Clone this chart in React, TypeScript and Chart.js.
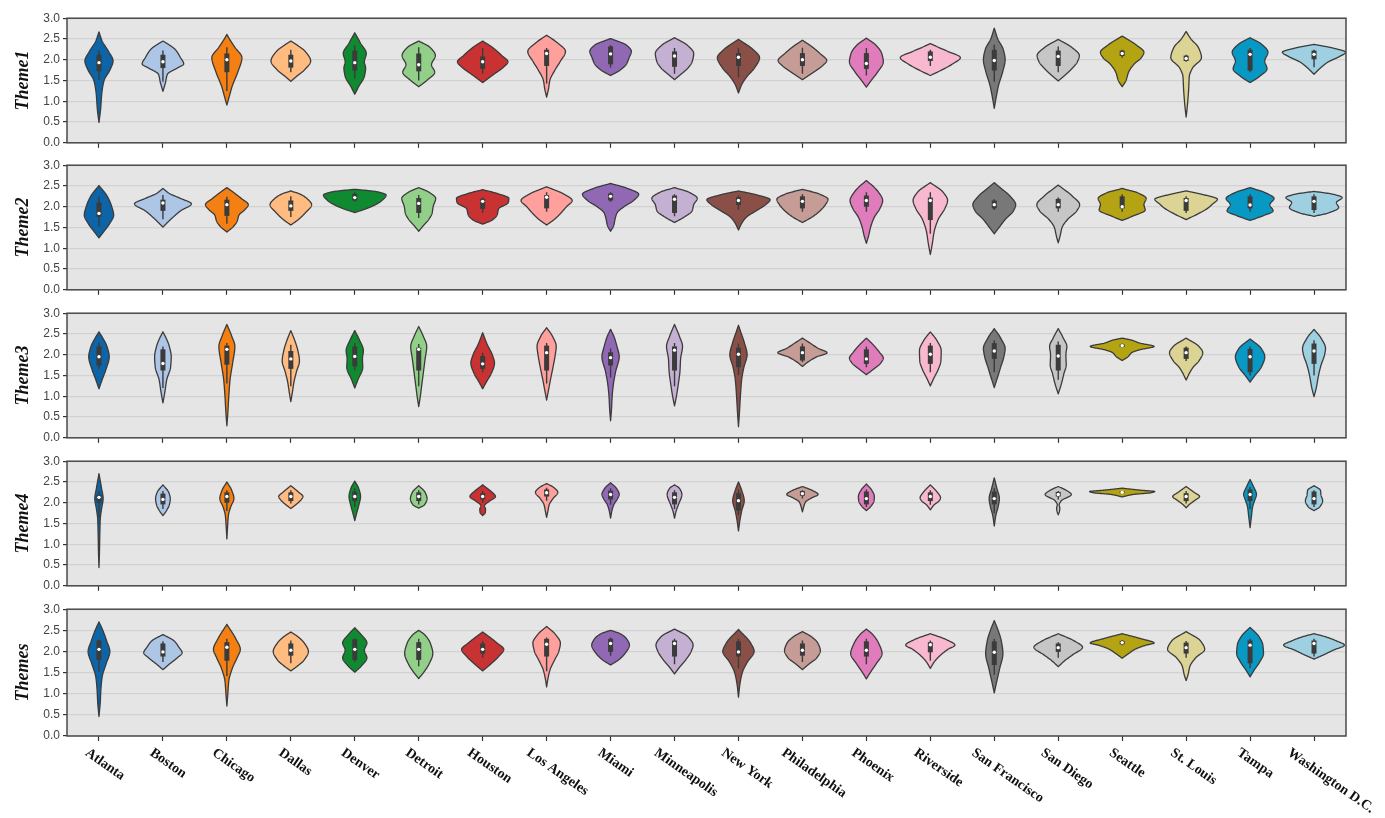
import React, { useEffect, useRef } from "react";
import { Chart, registerables } from "chart.js";

Chart.register(...registerables);

const cities = [
  "Atlanta", "Boston", "Chicago", "Dallas", "Denver", "Detroit", "Houston",
  "Los Angeles", "Miami", "Minneapolis", "New York", "Philadelphia", "Phoenix",
  "Riverside", "San Francisco", "San Diego", "Seattle", "St. Louis", "Tampa",
  "Washington D.C.",
];

const cityColors = [
  "#0d64a6", "#aec6e6", "#f47f12", "#ffbb80", "#108a30", "#92d08a", "#c83232",
  "#ffa09c", "#9068b4", "#c4b0d2", "#8a5048", "#c69c96", "#e07cbc", "#f8b8d0",
  "#787878", "#c6c6c6", "#b4a414", "#dcd494", "#0898c4", "#9ed0e2",
];

const themeNames = ["Theme1", "Theme2", "Theme3", "Theme4", "Themes"];

// Box summaries per city: [whisker low, q1, median, q3, whisker high]
const theme1Stats = [
  [1.52, 1.72, 1.93, 2.12, 2.22], [1.47, 1.8, 1.95, 2.12, 2.22], [1.25, 1.7, 2.0, 2.15, 2.3],
  [1.7, 1.81, 1.97, 2.12, 2.24], [1.55, 1.74, 1.93, 2.22, 2.35], [1.5, 1.72, 1.88, 2.15, 2.3],
  [1.66, 1.78, 1.95, 2.08, 2.28], [1.43, 1.85, 2.15, 2.24, 2.28], [1.81, 1.89, 2.14, 2.32, 2.35],
  [1.66, 1.83, 2.09, 2.2, 2.28], [1.58, 1.85, 2.06, 2.16, 2.28], [1.66, 1.85, 2.0, 2.16, 2.29],
  [1.62, 1.78, 1.91, 2.16, 2.28], [1.85, 1.97, 2.06, 2.2, 2.24], [1.47, 1.74, 1.98, 2.24, 2.36],
  [1.7, 1.85, 2.08, 2.22, 2.32], [2.05, 2.09, 2.15, 2.22, 2.24], [1.95, 1.97, 2.03, 2.1, 2.12],
  [1.7, 1.74, 2.13, 2.24, 2.28], [1.82, 2.01, 2.13, 2.22, 2.24],
];
const theme2Stats = [
  [1.52, 1.76, 1.84, 2.1, 2.24], [1.7, 1.9, 2.09, 2.17, 2.28], [1.59, 1.78, 2.05, 2.17, 2.24],
  [1.75, 1.9, 2.02, 2.15, 2.25], [2.12, 2.15, 2.22, 2.31, 2.35], [1.73, 1.85, 2.08, 2.21, 2.28],
  [1.85, 1.95, 2.13, 2.19, 2.23], [1.88, 1.96, 2.23, 2.28, 2.35], [2.12, 2.15, 2.25, 2.32, 2.35],
  [1.77, 1.85, 2.18, 2.27, 2.3], [1.92, 2.04, 2.15, 2.23, 2.27], [1.88, 1.96, 2.13, 2.25, 2.3],
  [1.88, 2.0, 2.15, 2.27, 2.35], [1.35, 1.68, 2.15, 2.22, 2.35], [1.92, 1.96, 2.05, 2.15, 2.18],
  [1.88, 1.96, 2.05, 2.19, 2.22], [1.88, 1.96, 2.0, 2.25, 2.3], [1.85, 1.9, 2.15, 2.21, 2.25],
  [1.88, 1.96, 2.04, 2.25, 2.3], [1.85, 1.92, 2.13, 2.25, 2.3],
];
const theme3Stats = [
  [1.66, 1.74, 1.95, 2.2, 2.28], [1.2, 1.62, 1.79, 2.13, 2.2], [1.31, 1.76, 2.13, 2.22, 2.28],
  [1.24, 1.66, 1.9, 2.09, 2.24], [1.62, 1.72, 1.96, 2.2, 2.28], [1.24, 1.62, 2.13, 2.17, 2.26],
  [1.58, 1.66, 1.78, 1.97, 2.05], [1.31, 1.62, 2.05, 2.22, 2.28], [1.45, 1.74, 1.93, 2.06, 2.15],
  [1.24, 1.62, 2.11, 2.2, 2.28], [1.51, 1.7, 2.01, 2.17, 2.27], [1.82, 1.86, 2.05, 2.2, 2.27],
  [1.7, 1.78, 1.9, 2.13, 2.2], [1.58, 1.78, 2.01, 2.22, 2.28], [1.58, 1.9, 2.09, 2.28, 2.35],
  [1.4, 1.62, 1.97, 2.24, 2.32], [2.18, 2.19, 2.22, 2.25, 2.27], [1.85, 1.9, 2.05, 2.17, 2.2],
  [1.5, 1.58, 1.95, 2.14, 2.2], [1.5, 1.78, 2.09, 2.27, 2.35],
];
const theme4Stats = [
  [1.65, 2.0, 2.13, 2.19, 2.28], [1.85, 1.96, 2.08, 2.22, 2.28], [1.8, 2.0, 2.15, 2.25, 2.3],
  [1.98, 2.04, 2.15, 2.25, 2.3], [1.9, 2.04, 2.15, 2.27, 2.35], [1.96, 2.04, 2.15, 2.25, 2.3],
  [2.0, 2.08, 2.15, 2.23, 2.28], [2.05, 2.15, 2.24, 2.32, 2.36], [1.95, 2.08, 2.2, 2.29, 2.35],
  [1.85, 1.96, 2.13, 2.25, 2.3], [1.7, 1.81, 2.05, 2.23, 2.32], [2.1, 2.17, 2.22, 2.28, 2.3],
  [1.9, 1.96, 2.1, 2.27, 2.32], [1.95, 2.04, 2.15, 2.25, 2.3], [1.75, 1.96, 2.1, 2.27, 2.35],
  [2.08, 2.15, 2.2, 2.26, 2.28], [2.22, 2.23, 2.25, 2.27, 2.28], [1.98, 2.04, 2.15, 2.23, 2.28],
  [1.85, 2.04, 2.2, 2.32, 2.38], [1.9, 1.96, 2.1, 2.27, 2.3],
];
const themesStats = [
  [1.53, 1.8, 2.05, 2.26, 2.28], [1.75, 1.88, 1.99, 2.19, 2.24], [1.42, 1.78, 2.1, 2.22, 2.3],
  [1.72, 1.9, 2.03, 2.19, 2.26], [1.75, 1.8, 2.05, 2.29, 2.3], [1.65, 1.8, 2.05, 2.22, 2.3],
  [1.85, 1.95, 2.05, 2.19, 2.25], [1.53, 1.88, 2.17, 2.3, 2.33], [1.9, 1.99, 2.19, 2.3, 2.33],
  [1.7, 1.88, 2.19, 2.26, 2.3], [1.6, 1.88, 1.99, 2.24, 2.3], [1.75, 1.9, 2.03, 2.19, 2.26],
  [1.7, 1.88, 2.03, 2.24, 2.3], [1.78, 1.98, 2.16, 2.22, 2.26], [1.45, 1.68, 1.98, 2.24, 2.3],
  [1.85, 1.99, 2.09, 2.19, 2.22], [2.15, 2.17, 2.21, 2.25, 2.27], [1.85, 1.95, 2.09, 2.21, 2.25],
  [1.6, 1.72, 2.15, 2.26, 2.3], [1.88, 1.95, 2.19, 2.26, 2.3],
];

// Kernel density outlines per city: [value, density] knots, density as a
// fraction of half the category width
const theme1Density = [
  [[0.49, 0], [0.8, 0.05], [1.2, 0.09], [1.5, 0.16], [1.75, 0.34], [1.97, 0.44], [2.2, 0.3], [2.45, 0.1], [2.67, 0]],
  [[1.24, 0], [1.45, 0.08], [1.65, 0.14], [1.8, 0.45], [1.9, 0.65], [2.05, 0.55], [2.25, 0.38], [2.38, 0.15], [2.45, 0]],
  [[0.91, 0], [1.1, 0.07], [1.35, 0.16], [1.7, 0.34], [2.05, 0.47], [2.3, 0.25], [2.5, 0.08], [2.61, 0]],
  [[1.48, 0], [1.6, 0.18], [1.75, 0.42], [1.97, 0.62], [2.2, 0.45], [2.35, 0.2], [2.45, 0]],
  [[1.17, 0], [1.35, 0.12], [1.6, 0.3], [1.8, 0.34], [1.95, 0.3], [2.15, 0.36], [2.4, 0.18], [2.65, 0]],
  [[1.35, 0], [1.5, 0.25], [1.7, 0.5], [1.88, 0.4], [2.1, 0.52], [2.3, 0.35], [2.45, 0]],
  [[1.45, 0], [1.65, 0.35], [1.82, 0.65], [1.95, 0.79], [2.1, 0.6], [2.3, 0.3], [2.45, 0]],
  [[1.1, 0], [1.3, 0.06], [1.5, 0.1], [1.75, 0.26], [1.95, 0.42], [2.2, 0.59], [2.4, 0.35], [2.59, 0]],
  [[1.62, 0], [1.75, 0.3], [1.9, 0.5], [2.05, 0.58], [2.2, 0.65], [2.35, 0.5], [2.51, 0]],
  [[1.52, 0], [1.65, 0.2], [1.8, 0.42], [1.95, 0.55], [2.15, 0.6], [2.35, 0.4], [2.53, 0]],
  [[1.2, 0], [1.4, 0.1], [1.6, 0.27], [1.8, 0.5], [2.05, 0.66], [2.25, 0.45], [2.49, 0]],
  [[1.52, 0], [1.7, 0.35], [1.85, 0.62], [1.98, 0.76], [2.15, 0.55], [2.3, 0.32], [2.47, 0]],
  [[1.34, 0], [1.5, 0.15], [1.7, 0.35], [1.95, 0.53], [2.15, 0.48], [2.35, 0.3], [2.52, 0]],
  [[1.62, 0], [1.75, 0.35], [1.9, 0.7], [2.05, 0.94], [2.2, 0.55], [2.3, 0.25], [2.39, 0]],
  [[0.83, 0], [1.1, 0.06], [1.4, 0.14], [1.7, 0.26], [2.0, 0.34], [2.25, 0.28], [2.5, 0.11], [2.76, 0]],
  [[1.49, 0], [1.62, 0.2], [1.78, 0.42], [1.95, 0.6], [2.1, 0.66], [2.3, 0.42], [2.49, 0]],
  [[1.35, 0], [1.5, 0.12], [1.7, 0.2], [1.9, 0.38], [2.05, 0.6], [2.18, 0.68], [2.35, 0.45], [2.57, 0]],
  [[0.62, 0], [0.9, 0.04], [1.3, 0.08], [1.6, 0.1], [1.8, 0.2], [2.05, 0.48], [2.3, 0.38], [2.5, 0.15], [2.68, 0]],
  [[1.45, 0], [1.6, 0.3], [1.78, 0.53], [1.97, 0.46], [2.18, 0.56], [2.38, 0.35], [2.53, 0]],
  [[1.65, 0], [1.8, 0.2], [1.95, 0.45], [2.08, 0.8], [2.18, 0.99], [2.28, 0.6], [2.37, 0]],
];
const theme2Density = [
  [[1.25, 0], [1.4, 0.15], [1.6, 0.34], [1.8, 0.46], [2.0, 0.4], [2.25, 0.26], [2.51, 0]],
  [[1.51, 0], [1.7, 0.25], [1.9, 0.55], [2.07, 0.89], [2.2, 0.55], [2.32, 0.2], [2.44, 0]],
  [[1.39, 0], [1.52, 0.2], [1.65, 0.32], [1.8, 0.38], [1.92, 0.55], [2.05, 0.67], [2.2, 0.45], [2.35, 0.2], [2.46, 0]],
  [[1.56, 0], [1.7, 0.25], [1.85, 0.45], [2.05, 0.65], [2.2, 0.5], [2.3, 0.3], [2.38, 0]],
  [[1.86, 0], [1.95, 0.35], [2.05, 0.65], [2.15, 0.85], [2.28, 0.98], [2.36, 0.7], [2.42, 0]],
  [[1.41, 0], [1.55, 0.15], [1.7, 0.32], [1.85, 0.42], [2.0, 0.45], [2.2, 0.53], [2.35, 0.32], [2.46, 0]],
  [[1.58, 0], [1.68, 0.3], [1.8, 0.45], [1.95, 0.5], [2.1, 0.8], [2.2, 0.82], [2.32, 0.45], [2.41, 0]],
  [[1.56, 0], [1.7, 0.25], [1.85, 0.45], [2.0, 0.62], [2.15, 0.8], [2.3, 0.55], [2.48, 0]],
  [[1.41, 0], [1.55, 0.1], [1.7, 0.14], [1.85, 0.2], [2.0, 0.42], [2.15, 0.72], [2.3, 0.88], [2.45, 0.5], [2.56, 0]],
  [[1.62, 0], [1.75, 0.3], [1.9, 0.55], [2.05, 0.6], [2.2, 0.71], [2.35, 0.45], [2.46, 0]],
  [[1.44, 0], [1.6, 0.1], [1.75, 0.25], [1.9, 0.55], [2.05, 0.85], [2.17, 0.99], [2.28, 0.6], [2.38, 0]],
  [[1.62, 0], [1.75, 0.3], [1.9, 0.55], [2.05, 0.72], [2.18, 0.8], [2.3, 0.55], [2.42, 0]],
  [[1.12, 0], [1.3, 0.07], [1.5, 0.13], [1.75, 0.25], [1.95, 0.42], [2.15, 0.51], [2.35, 0.38], [2.5, 0.2], [2.63, 0]],
  [[0.85, 0], [1.1, 0.06], [1.4, 0.12], [1.7, 0.25], [1.95, 0.45], [2.15, 0.54], [2.35, 0.4], [2.58, 0]],
  [[1.35, 0], [1.5, 0.15], [1.7, 0.35], [1.9, 0.6], [2.05, 0.67], [2.25, 0.5], [2.45, 0.2], [2.58, 0]],
  [[1.13, 0], [1.3, 0.06], [1.5, 0.12], [1.7, 0.3], [1.9, 0.58], [2.05, 0.67], [2.25, 0.45], [2.52, 0]],
  [[1.67, 0], [1.78, 0.35], [1.92, 0.72], [2.05, 0.68], [2.2, 0.75], [2.33, 0.5], [2.44, 0]],
  [[1.69, 0], [1.82, 0.35], [1.95, 0.65], [2.08, 0.85], [2.18, 0.98], [2.28, 0.6], [2.38, 0]],
  [[1.67, 0], [1.78, 0.4], [1.9, 0.72], [2.05, 0.62], [2.2, 0.75], [2.33, 0.5], [2.46, 0]],
  [[1.77, 0], [1.85, 0.45], [1.98, 0.77], [2.1, 0.7], [2.22, 0.88], [2.3, 0.6], [2.37, 0]],
];
const theme3Density = [
  [[1.18, 0], [1.4, 0.1], [1.65, 0.22], [1.95, 0.32], [2.2, 0.25], [2.4, 0.12], [2.55, 0]],
  [[0.84, 0], [1.1, 0.06], [1.4, 0.12], [1.7, 0.24], [1.95, 0.26], [2.2, 0.2], [2.4, 0.1], [2.55, 0]],
  [[0.29, 0], [0.6, 0.03], [1.0, 0.06], [1.4, 0.1], [1.8, 0.18], [2.2, 0.25], [2.45, 0.15], [2.73, 0]],
  [[0.87, 0], [1.1, 0.05], [1.35, 0.1], [1.6, 0.18], [1.85, 0.27], [2.1, 0.22], [2.35, 0.12], [2.58, 0]],
  [[1.2, 0], [1.4, 0.1], [1.7, 0.25], [1.9, 0.24], [2.1, 0.27], [2.35, 0.15], [2.58, 0]],
  [[0.75, 0], [1.0, 0.05], [1.3, 0.1], [1.6, 0.15], [1.9, 0.2], [2.2, 0.25], [2.45, 0.14], [2.68, 0]],
  [[1.18, 0], [1.35, 0.12], [1.55, 0.27], [1.8, 0.37], [2.0, 0.3], [2.25, 0.14], [2.53, 0]],
  [[0.91, 0], [1.15, 0.06], [1.4, 0.12], [1.7, 0.2], [2.0, 0.27], [2.2, 0.3], [2.45, 0.18], [2.65, 0]],
  [[0.41, 0], [0.7, 0.03], [1.0, 0.05], [1.3, 0.09], [1.6, 0.16], [1.95, 0.27], [2.2, 0.2], [2.45, 0.1], [2.61, 0]],
  [[0.77, 0], [1.0, 0.06], [1.3, 0.12], [1.6, 0.17], [1.9, 0.19], [2.2, 0.25], [2.45, 0.15], [2.73, 0]],
  [[0.27, 0], [0.6, 0.03], [1.0, 0.06], [1.4, 0.1], [1.7, 0.17], [2.0, 0.27], [2.3, 0.18], [2.55, 0.07], [2.71, 0]],
  [[1.72, 0], [1.85, 0.22], [1.95, 0.45], [2.05, 0.77], [2.15, 0.5], [2.25, 0.3], [2.4, 0]],
  [[1.52, 0], [1.65, 0.22], [1.8, 0.45], [1.92, 0.53], [2.05, 0.42], [2.25, 0.2], [2.4, 0]],
  [[1.25, 0], [1.45, 0.12], [1.65, 0.25], [1.85, 0.33], [2.1, 0.34], [2.35, 0.2], [2.55, 0]],
  [[1.21, 0], [1.45, 0.1], [1.7, 0.2], [1.95, 0.3], [2.15, 0.34], [2.4, 0.2], [2.63, 0]],
  [[1.06, 0], [1.3, 0.1], [1.55, 0.18], [1.75, 0.25], [2.0, 0.24], [2.2, 0.27], [2.4, 0.16], [2.63, 0]],
  [[1.86, 0], [1.95, 0.18], [2.05, 0.3], [2.12, 0.55], [2.2, 1.0], [2.28, 0.55], [2.35, 0.3], [2.4, 0]],
  [[1.39, 0], [1.55, 0.1], [1.7, 0.22], [1.85, 0.4], [2.05, 0.52], [2.2, 0.4], [2.4, 0]],
  [[1.34, 0], [1.5, 0.15], [1.7, 0.35], [1.95, 0.46], [2.15, 0.35], [2.38, 0]],
  [[0.99, 0], [1.2, 0.07], [1.5, 0.14], [1.75, 0.22], [2.0, 0.33], [2.15, 0.36], [2.4, 0.22], [2.61, 0]],
];
const theme4Density = [
  [[0.44, 0], [0.8, 0.015], [1.2, 0.025], [1.6, 0.04], [1.85, 0.08], [2.1, 0.13], [2.35, 0.08], [2.7, 0]],
  [[1.69, 0], [1.82, 0.12], [1.95, 0.2], [2.1, 0.23], [2.25, 0.18], [2.43, 0]],
  [[1.13, 0], [1.4, 0.02], [1.7, 0.05], [1.9, 0.12], [2.1, 0.22], [2.3, 0.15], [2.5, 0]],
  [[1.86, 0], [1.98, 0.2], [2.08, 0.33], [2.15, 0.38], [2.25, 0.25], [2.41, 0]],
  [[1.57, 0], [1.75, 0.06], [1.95, 0.13], [2.15, 0.18], [2.35, 0.12], [2.52, 0]],
  [[1.87, 0], [1.95, 0.18], [2.1, 0.26], [2.25, 0.2], [2.41, 0]],
  [[1.69, 0], [1.76, 0.08], [1.84, 0.09], [1.93, 0.06], [2.03, 0.2], [2.15, 0.4], [2.28, 0.25], [2.43, 0]],
  [[1.65, 0], [1.8, 0.04], [1.95, 0.08], [2.1, 0.2], [2.25, 0.35], [2.38, 0.2], [2.46, 0]],
  [[1.63, 0], [1.8, 0.04], [1.95, 0.1], [2.1, 0.22], [2.2, 0.27], [2.35, 0.18], [2.48, 0]],
  [[1.63, 0], [1.8, 0.05], [1.95, 0.12], [2.2, 0.23], [2.35, 0.15], [2.43, 0]],
  [[1.32, 0], [1.55, 0.04], [1.8, 0.1], [2.05, 0.18], [2.3, 0.1], [2.5, 0]],
  [[1.78, 0], [1.9, 0.04], [2.02, 0.1], [2.12, 0.3], [2.2, 0.49], [2.3, 0.3], [2.39, 0]],
  [[1.81, 0], [1.92, 0.15], [2.05, 0.24], [2.15, 0.25], [2.3, 0.17], [2.45, 0]],
  [[1.83, 0], [1.95, 0.12], [2.05, 0.28], [2.12, 0.32], [2.25, 0.22], [2.43, 0]],
  [[1.44, 0], [1.7, 0.05], [1.9, 0.12], [2.1, 0.16], [2.35, 0.08], [2.6, 0]],
  [[1.71, 0], [1.8, 0.04], [1.87, 0.05], [1.95, 0.03], [2.05, 0.1], [2.2, 0.41], [2.3, 0.25], [2.39, 0]],
  [[2.14, 0], [2.2, 0.35], [2.24, 0.9], [2.27, 1.02], [2.3, 0.6], [2.35, 0]],
  [[1.88, 0], [1.97, 0.12], [2.06, 0.28], [2.15, 0.42], [2.25, 0.25], [2.39, 0]],
  [[1.4, 0], [1.65, 0.04], [1.9, 0.08], [2.05, 0.14], [2.2, 0.2], [2.4, 0.1], [2.56, 0]],
  [[1.81, 0], [1.9, 0.18], [2.05, 0.27], [2.18, 0.22], [2.3, 0.2], [2.41, 0]],
];
const themesDensity = [
  [[0.46, 0], [0.8, 0.04], [1.1, 0.06], [1.4, 0.1], [1.7, 0.22], [2.0, 0.34], [2.25, 0.24], [2.5, 0.12], [2.7, 0]],
  [[1.57, 0], [1.7, 0.2], [1.85, 0.45], [1.97, 0.6], [2.1, 0.5], [2.25, 0.35], [2.4, 0]],
  [[0.71, 0], [1.0, 0.03], [1.3, 0.06], [1.6, 0.17], [1.85, 0.32], [2.05, 0.42], [2.3, 0.28], [2.64, 0]],
  [[1.54, 0], [1.65, 0.2], [1.8, 0.42], [2.0, 0.55], [2.2, 0.42], [2.35, 0.22], [2.46, 0]],
  [[1.51, 0], [1.65, 0.2], [1.85, 0.38], [2.03, 0.3], [2.2, 0.38], [2.4, 0.2], [2.56, 0]],
  [[1.36, 0], [1.5, 0.15], [1.7, 0.32], [1.95, 0.44], [2.2, 0.36], [2.4, 0.18], [2.5, 0]],
  [[1.54, 0], [1.7, 0.25], [1.88, 0.5], [2.05, 0.66], [2.2, 0.45], [2.35, 0.2], [2.46, 0]],
  [[1.16, 0], [1.35, 0.04], [1.55, 0.1], [1.8, 0.25], [2.0, 0.38], [2.2, 0.43], [2.4, 0.28], [2.59, 0]],
  [[1.68, 0], [1.8, 0.25], [1.95, 0.45], [2.15, 0.59], [2.3, 0.5], [2.42, 0.3], [2.5, 0]],
  [[1.47, 0], [1.62, 0.15], [1.8, 0.35], [2.0, 0.52], [2.15, 0.58], [2.35, 0.42], [2.53, 0]],
  [[0.92, 0], [1.2, 0.04], [1.5, 0.12], [1.75, 0.28], [2.0, 0.49], [2.2, 0.38], [2.52, 0]],
  [[1.57, 0], [1.7, 0.2], [1.85, 0.45], [2.02, 0.56], [2.2, 0.48], [2.35, 0.28], [2.47, 0]],
  [[1.35, 0], [1.5, 0.12], [1.7, 0.3], [1.95, 0.49], [2.2, 0.38], [2.4, 0.2], [2.53, 0]],
  [[1.6, 0], [1.75, 0.12], [1.9, 0.3], [2.05, 0.55], [2.15, 0.77], [2.28, 0.5], [2.42, 0]],
  [[1.02, 0], [1.3, 0.08], [1.6, 0.17], [1.95, 0.27], [2.25, 0.22], [2.5, 0.12], [2.73, 0]],
  [[1.64, 0], [1.78, 0.2], [1.92, 0.45], [2.1, 0.76], [2.25, 0.5], [2.42, 0]],
  [[1.84, 0], [1.95, 0.2], [2.05, 0.4], [2.15, 0.75], [2.2, 1.0], [2.3, 0.6], [2.42, 0]],
  [[1.31, 0], [1.45, 0.06], [1.65, 0.12], [1.85, 0.3], [2.05, 0.58], [2.25, 0.45], [2.47, 0]],
  [[1.4, 0], [1.55, 0.12], [1.75, 0.3], [1.95, 0.42], [2.15, 0.4], [2.35, 0.28], [2.57, 0]],
  [[1.82, 0], [1.92, 0.3], [2.03, 0.6], [2.15, 0.95], [2.25, 0.7], [2.35, 0.35], [2.42, 0]],
];

const panelStats = [theme1Stats, theme2Stats, theme3Stats, theme4Stats, themesStats];
const panelDensity = [theme1Density, theme2Density, theme3Density, theme4Density, themesDensity];

const PANEL_TOPS = [16, 163, 311, 459, 607];
const PLOT_H = 129;
const PAD_TOP = 8;
const X_AXIS_H = 8;
const PAGE_W = 1385;
const PAGE_H = 818;

const INK = "#3b3b3b";

// Monotone cubic (Fritsch–Carlson) interpolation through the density knots
function monotone(knots: number[][]) {
  const xs = knots.map((k) => k[0]);
  const ys = knots.map((k) => k[1]);
  const n = xs.length;
  const dx: number[] = [];
  const m: number[] = [];
  for (let i = 0; i < n - 1; i++) {
    dx.push(xs[i + 1] - xs[i]);
    m.push((ys[i + 1] - ys[i]) / dx[i]);
  }
  const t = new Array(n).fill(0);
  t[0] = m[0];
  t[n - 1] = m[n - 2];
  for (let i = 1; i < n - 1; i++) {
    if (m[i - 1] * m[i] <= 0) t[i] = 0;
    else {
      t[i] = (3 * (dx[i - 1] + dx[i])) /
        ((2 * dx[i] + dx[i - 1]) / m[i - 1] + (dx[i] + 2 * dx[i - 1]) / m[i]);
    }
  }
  return (x: number) => {
    let i = 0;
    while (i < n - 2 && x > xs[i + 1]) i++;
    const h = dx[i];
    const s = Math.min(1, Math.max(0, (x - xs[i]) / h));
    const s2 = s * s;
    const s3 = s2 * s;
    const y =
      (2 * s3 - 3 * s2 + 1) * ys[i] +
      (s3 - 2 * s2 + s) * h * t[i] +
      (-2 * s3 + 3 * s2) * ys[i + 1] +
      (s3 - s2) * h * t[i + 1];
    return Math.max(0, y);
  };
}

function makeViolinPlugin(panel: number, isLast: boolean) {
  const stats = panelStats[panel];
  const density = panelDensity[panel];
  return {
    id: "violins" + panel,
    beforeDraw(chart: any) {
      const { ctx, chartArea: a } = chart;
      ctx.save();
      ctx.fillStyle = "#e5e5e5";
      ctx.fillRect(a.left, a.top, a.right - a.left, a.bottom - a.top);
      ctx.restore();
    },
    beforeDatasetsDraw(chart: any) {
      const { ctx, chartArea: a } = chart;
      const xs = chart.scales.x;
      const ys = chart.scales.y;
      const half = (xs.getPixelForValue(1) - xs.getPixelForValue(0)) / 2;
      ctx.save();
      ctx.beginPath();
      ctx.rect(a.left, a.top, a.right - a.left, a.bottom - a.top);
      ctx.clip();
      cities.forEach((_, i) => {
        const cx = xs.getPixelForValue(i);
        const knots = density[i];
        const f = monotone(knots);
        const lo = knots[0][0];
        const hi = knots[knots.length - 1][0];
        const N = 120;
        const pts: number[][] = [];
        for (let k = 0; k <= N; k++) {
          const v = lo + ((hi - lo) * k) / N;
          pts.push([f(v) * half, ys.getPixelForValue(v)]);
        }
        ctx.beginPath();
        pts.forEach((p, k) => {
          if (k === 0) ctx.moveTo(cx + p[0], p[1]);
          else ctx.lineTo(cx + p[0], p[1]);
        });
        for (let k = pts.length - 1; k >= 0; k--) ctx.lineTo(cx - pts[k][0], pts[k][1]);
        ctx.closePath();
        ctx.fillStyle = cityColors[i];
        ctx.fill();
        ctx.lineWidth = 1.3;
        ctx.strokeStyle = INK;
        ctx.lineJoin = "round";
        ctx.stroke();

        const [wLo, q1, , q3, wHi] = stats[i];
        ctx.beginPath();
        ctx.moveTo(cx, ys.getPixelForValue(wLo));
        ctx.lineTo(cx, ys.getPixelForValue(wHi));
        ctx.lineWidth = 1.4;
        ctx.strokeStyle = INK;
        ctx.stroke();
        const yTop = ys.getPixelForValue(q3);
        const yBot = ys.getPixelForValue(q1);
        ctx.fillStyle = INK;
        ctx.fillRect(cx - 2.5, yTop, 5, yBot - yTop);
      });
      ctx.restore();
    },
    afterDatasetsDraw(chart: any) {
      const { ctx, chartArea: a } = chart;
      ctx.save();
      ctx.strokeStyle = "#4a4a4a";
      ctx.lineWidth = 1.5;
      ctx.strokeRect(a.left, a.top, a.right - a.left, a.bottom - a.top);
      ctx.restore();
    },
    afterDraw(chart: any) {
      const { ctx, chartArea: a } = chart;
      ctx.save();
      ctx.fillStyle = "#111";
      ctx.font = 'italic bold 18px "Liberation Serif", "DejaVu Serif", serif';
      ctx.textAlign = "center";
      ctx.textBaseline = "middle";
      ctx.translate(23, (a.top + a.bottom) / 2);
      ctx.rotate(-Math.PI / 2);
      ctx.fillText(themeNames[panel], 0, 0);
      ctx.restore();

      if (isLast) {
        const xs = chart.scales.x;
        const theta = (35 * Math.PI) / 180;
        const cos = Math.cos(theta);
        const sin = Math.sin(theta);
        ctx.save();
        ctx.fillStyle = "#111";
        ctx.font = 'bold 14px "Liberation Serif", "DejaVu Serif", serif';
        ctx.textAlign = "center";
        ctx.textBaseline = "middle";
        const h = 11;
        cities.forEach((name, i) => {
          const tx = xs.getPixelForValue(i);
          const w = ctx.measureText(name).width;
          const L = w * cos + h * sin;
          const V = w * sin + h * cos;
          const cx = tx - 4 + 0.23 * L;
          const cy = a.bottom + 11 + V / 2;
          ctx.save();
          ctx.translate(cx, cy);
          ctx.rotate(theta);
          ctx.fillText(name, 0, 0);
          ctx.restore();
        });
        ctx.restore();
      }
    },
  };
}

function Panel({ index }: { index: number }) {
  const ref = useRef<HTMLCanvasElement | null>(null);
  const isLast = index === themeNames.length - 1;
  const top = PANEL_TOPS[index] - PAD_TOP;
  const height = isLast ? PAGE_H - top : PAD_TOP + PLOT_H + X_AXIS_H;
  const bottomPad = height - PAD_TOP - PLOT_H - X_AXIS_H;

  useEffect(() => {
    const canvas = ref.current;
    if (!canvas) return;
    const stats = panelStats[index];
    const chart = new Chart(canvas, {
      type: "line",
      data: {
        labels: cities,
        datasets: [
          {
            data: stats.map((s) => s[2]),
            showLine: false,
            pointRadius: 1.7,
            pointHoverRadius: 1.7,
            pointBackgroundColor: "#ffffff",
            pointBorderWidth: 0,
            borderColor: "rgba(0,0,0,0)",
          },
        ],
      },
      options: {
        responsive: false,
        animation: false,
        devicePixelRatio: 1,
        events: [],
        layout: { padding: { left: 0, right: 39, top: PAD_TOP, bottom: bottomPad } },
        plugins: { legend: { display: false }, tooltip: { enabled: false } },
        scales: {
          x: {
            type: "category",
            offset: true,
            grid: {
              display: true,
              drawOnChartArea: false,
              drawTicks: true,
              tickLength: 5,
              tickColor: "#333",
              tickWidth: 1.2,
              offset: false,
            },
            border: { display: false },
            ticks: { display: false },
            afterFit: (s: any) => {
              s.height = X_AXIS_H;
            },
          },
          y: {
            min: 0,
            max: 3,
            ticks: {
              stepSize: 0.5,
              callback: (v: any) => Number(v).toFixed(1),
              color: "#444",
              font: { family: '"Liberation Sans", Arial, sans-serif', size: 12 },
              padding: 3,
            },
            grid: {
              color: "#d2d2d2",
              lineWidth: 1.2,
              tickLength: 4,
              tickColor: "#333",
              tickWidth: 1.2,
            },
            border: { display: false },
            afterFit: (s: any) => {
              s.width = 67;
            },
          },
        },
      },
      plugins: [makeViolinPlugin(index, isLast)],
    } as any);
    return () => chart.destroy();
  }, [index]);

  return (
    <canvas
      ref={ref}
      width={PAGE_W}
      height={height}
      style={{ position: "absolute", left: 0, top, width: PAGE_W, height, display: "block" }}
    />
  );
}

export default function App() {
  return (
    <div style={{ position: "absolute", left: 0, top: 0, width: PAGE_W, height: PAGE_H, background: "#fff" }}>
      {themeNames.map((_, i) => (
        <Panel key={i} index={i} />
      ))}
    </div>
  );
}
